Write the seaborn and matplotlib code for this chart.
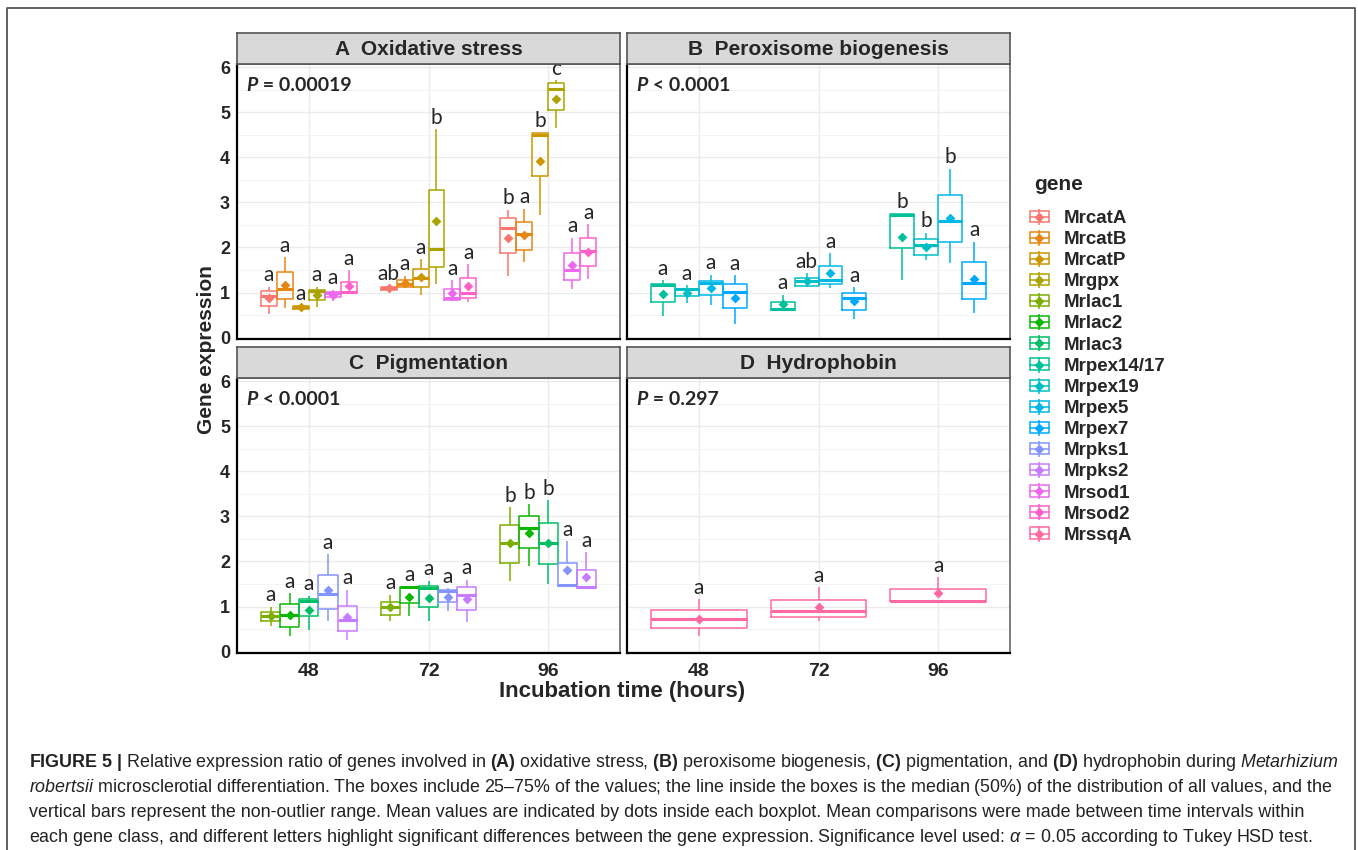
import pandas as pd
import matplotlib.pyplot as plt
import seaborn as sns
from matplotlib.patches import Patch
from matplotlib.lines import Line2D
from matplotlib.legend_handler import HandlerTuple

# Datos
times = ["48", "72", "96"]

gene_names = ["MrcatA", "MrcatB", "MrcatP", "Mrgpx", "Mrlac1", "Mrlac2", "Mrlac3",
              "Mrpex14/17", "Mrpex19", "Mrpex5", "Mrpex7", "Mrpks1", "Mrpks2",
              "Mrsod1", "Mrsod2", "MrssqA"]
gene_colors = ["#F8766D", "#E68613", "#CD9600", "#ABA300", "#7CAE00", "#0CB702",
               "#00BE67", "#00C19A", "#00BFC4", "#00B8E7", "#00A9FF", "#8494FF",
               "#C77CFF", "#ED68ED", "#FF61CC", "#FF68A1"]

# cada caja: [bigote inferior, Q1, mediana, Q3, bigote superior] para 48, 72, 96 h
ox_genes = ["MrcatA", "MrcatB", "MrcatP", "Mrgpx", "Mrsod1", "Mrsod2"]
ox_stats = [
    [[0.53, 0.71, 0.93, 1.04, 1.13], [1.04, 1.06, 1.10, 1.13, 1.15], [1.37, 1.88, 2.43, 2.65, 2.84]],
    [[0.65, 0.85, 1.07, 1.45, 1.79], [1.10, 1.13, 1.19, 1.27, 1.37], [1.67, 1.94, 2.29, 2.56, 2.86]],
    [[0.62, 0.64, 0.67, 0.70, 0.72], [0.95, 1.12, 1.32, 1.52, 1.74], [2.71, 3.58, 4.50, 4.53, 4.55]],
    [[0.69, 0.84, 1.04, 1.06, 1.13], [1.19, 1.56, 1.96, 3.28, 4.63], [4.65, 5.06, 5.52, 5.64, 5.71]],
    [[0.82, 0.90, 0.99, 1.01, 1.06], [0.82, 0.84, 0.87, 1.07, 1.28], [1.07, 1.28, 1.49, 1.87, 2.22]],
    [[0.99, 1.00, 1.01, 1.24, 1.49], [0.80, 0.88, 1.00, 1.32, 1.63], [1.29, 1.60, 1.92, 2.21, 2.52]],
]
ox_means = [[0.87, 1.10, 2.22], [1.17, 1.22, 2.27], [0.67, 1.34, 3.92],
            [0.95, 2.59, 5.30], [0.95, 1.00, 1.61], [1.15, 1.15, 1.91]]
ox_letters = [["a", "ab", "b"], ["a", "a", "a"], ["a", "a", "b"],
              ["a", "b", "c"], ["a", "a", "a"], ["a", "a", "a"]]

pex_genes = ["Mrpex14/17", "Mrpex19", "Mrpex5", "Mrpex7"]
pex_stats = [
    [[0.47, 0.79, 1.16, 1.19, 1.28], [0.61, 0.62, 0.63, 0.78, 0.95], [1.28, 1.99, 2.72, 2.74, 2.75]],
    [[0.77, 0.93, 1.07, 1.09, 1.16], [1.13, 1.15, 1.26, 1.32, 1.43], [1.72, 1.84, 2.05, 2.18, 2.33]],
    [[0.73, 0.95, 1.22, 1.26, 1.40], [1.10, 1.19, 1.28, 1.59, 1.87], [1.65, 2.12, 2.59, 3.16, 3.75]],
    [[0.31, 0.65, 1.01, 1.19, 1.39], [0.41, 0.62, 0.88, 0.99, 1.12], [0.54, 0.86, 1.21, 1.67, 2.13]],
]
pex_means = [[0.96, 0.74, 2.24], [1.00, 1.26, 2.02], [1.10, 1.43, 2.66], [0.88, 0.81, 1.30]]
pex_letters = [["a", "a", "b"], ["a", "ab", "b"], ["a", "a", "b"], ["a", "a", "a"]]

pig_genes = ["Mrlac1", "Mrlac2", "Mrlac3", "Mrpks1", "Mrpks2"]
pig_stats = [
    [[0.57, 0.67, 0.79, 0.87, 1.00], [0.69, 0.82, 0.98, 1.11, 1.26], [1.57, 1.96, 2.40, 2.80, 3.21]],
    [[0.34, 0.54, 0.82, 1.05, 1.30], [0.78, 1.09, 1.43, 1.44, 1.45], [1.91, 2.30, 2.74, 3.00, 3.27]],
    [[0.47, 0.78, 1.13, 1.16, 1.24], [0.67, 1.00, 1.41, 1.46, 1.57], [1.49, 1.94, 2.40, 2.86, 3.36]],
    [[0.69, 0.94, 1.28, 1.71, 2.16], [0.91, 1.11, 1.35, 1.37, 1.41], [1.45, 1.46, 1.47, 1.96, 2.45]],
    [[0.25, 0.45, 0.71, 1.02, 1.37], [0.65, 0.93, 1.26, 1.43, 1.60], [1.40, 1.41, 1.43, 1.80, 2.21]],
]
pig_means = [[0.78, 0.98, 2.40], [0.82, 1.22, 2.63], [0.93, 1.20, 2.41],
             [1.37, 1.22, 1.80], [0.77, 1.16, 1.66]]
pig_letters = [["a", "a", "b"], ["a", "a", "b"], ["a", "a", "b"], ["a", "a", "a"], ["a", "a", "a"]]

hyd_genes = ["MrssqA"]
hyd_stats = [
    [[0.35, 0.52, 0.72, 0.93, 1.16], [0.67, 0.77, 0.91, 1.15, 1.43], [1.12, 1.13, 1.13, 1.38, 1.65]],
]
hyd_means = [[0.72, 1.00, 1.30]]
hyd_letters = [["a", "a", "a"]]

panel_titles = ["A  Oxidative stress", "B  Peroxisome biogenesis", "C  Pigmentation", "D  Hydrophobin"]
panel_pvalues = ["= 0.00019", "< 0.0001", "< 0.0001", "= 0.297"]


def long_table(genes, stats):
    rows = []
    for g, per_time in zip(genes, stats):
        for t, five in zip(times, per_time):
            for v in five:
                rows.append((g, t, v))
    return pd.DataFrame(rows, columns=["gene", "time", "expr"])


def mean_table(genes, means):
    rows = [(g, t, m) for g, ms in zip(genes, means) for t, m in zip(times, ms)]
    return pd.DataFrame(rows, columns=["gene", "time", "expr"])


sns.set_style("white")
plt.rcParams["font.family"] = ["Liberation Sans", "DejaVu Sans"]
plt.rcParams["mathtext.fontset"] = "custom"
plt.rcParams["mathtext.rm"] = "Liberation Sans"
plt.rcParams["mathtext.bf"] = "Liberation Sans:bold"
plt.rcParams["mathtext.it"] = "Liberation Sans:italic"
palette = dict(zip(gene_names, gene_colors))

W, H = 1358, 850
fig = plt.figure(figsize=(13.58, 8.5), dpi=100)

# fondo en píxeles para marco, etiquetas y pie de figura
bg = fig.add_axes([0, 0, 1, 1], zorder=-1)
bg.set_xlim(0, W)
bg.set_ylim(H, 0)
bg.axis("off")
bg.plot([7, 7, 1355, 1355], [870, 8, 8, 870], color="#555555", lw=1.3, clip_on=False)

lefts = [237, 627]
tops = [64, 378]
pw, ph = 383, 275
axes = []
for r in range(2):
    for c in range(2):
        axes.append(fig.add_axes([lefts[c] / W, 1 - (tops[r] + ph) / H, pw / W, ph / H]))

panels = [
    (ox_genes, ox_stats, ox_means, ox_letters),
    (pex_genes, pex_stats, pex_means, pex_letters),
    (pig_genes, pig_stats, pig_means, pig_letters),
    (hyd_genes, hyd_stats, hyd_means, hyd_letters),
]

for i, (ax, (genes, stats, means, letters)) in enumerate(zip(axes, panels)):
    sns.boxplot(data=long_table(genes, stats), x="time", y="expr", hue="gene",
                order=times, hue_order=genes, palette=palette, fill=False,
                whis=(0, 100), width=0.8, linewidth=1.1, showcaps=False,
                medianprops={"linewidth": 2.2}, legend=False, ax=ax)
    sns.stripplot(data=mean_table(genes, means), x="time", y="expr", hue="gene",
                  order=times, hue_order=genes, palette=palette, dodge=True,
                  jitter=False, marker="D", size=5, legend=False, ax=ax, zorder=4)

    # letras de Tukey sobre cada caja
    each = 0.8 / len(genes)
    for gi in range(len(genes)):
        for ti in range(len(times)):
            ax.text(ti - 0.4 + each * (gi + 0.5), stats[gi][ti][4] + 0.12, letters[gi][ti],
                    ha="center", va="baseline", fontsize=15, family="Lato")

    ax.set_xlim(-0.6, 2.6)
    ax.set_ylim(-0.03, 6.07)
    ax.set_yticks(range(7))
    ax.set_yticks([k + 0.5 for k in range(6)], minor=True)
    ax.grid(which="major", color="#EBEBEB", lw=1.0)
    ax.grid(which="minor", axis="y", color="#F3F3F3", lw=0.7)
    ax.set_axisbelow(True)
    ax.set_xlabel("")
    ax.set_ylabel("")
    for sp in ax.spines.values():
        sp.set_color("#666666")
        sp.set_linewidth(1.2)
    ax.spines["left"].set_color("black")
    ax.spines["bottom"].set_color("black")
    ax.spines["left"].set_linewidth(1.6)
    ax.spines["bottom"].set_linewidth(1.6)

    ax.tick_params(axis="y", which="minor", left=False)
    if i % 2 == 0:
        ax.tick_params(axis="y", length=3, color="#333333", labelsize=13, pad=2)
        for lbl in ax.get_yticklabels():
            lbl.set_fontweight("bold")
    else:
        ax.tick_params(axis="y", left=False, labelleft=False)
    if i >= 2:
        ax.tick_params(axis="x", length=3, color="#333333", labelsize=14, pad=4)
        for lbl in ax.get_xticklabels():
            lbl.set_fontweight("bold")
    else:
        ax.tick_params(axis="x", bottom=False, labelbottom=False)

    # tira del facet
    strip = ax.inset_axes([0, 1, 1, 31 / ph])
    strip.set_facecolor("#D9D9D9")
    strip.set_xticks([])
    strip.set_yticks([])
    for sp in strip.spines.values():
        sp.set_color("#555555")
        sp.set_linewidth(1.2)
    strip.text(0.5, 0.48, panel_titles[i], ha="center", va="center",
               fontsize=15, fontweight="bold")

    # valor P
    tp = ax.text(0.025, 0.9, "P", transform=ax.transAxes, fontsize=14,
                 fontweight="bold", style="italic", family="Lato", va="baseline")
    ax.annotate(" " + panel_pvalues[i], xy=(1, 0), xycoords=tp, va="bottom",
                fontsize=14, fontweight="bold", family="Lato")

bg.text(622, 692, "Incubation time (hours)", ha="center", va="center",
        fontsize=16, fontweight="bold")
bg.text(207, 350, "Gene expression", ha="center", va="center", rotation=90,
        fontsize=15, fontweight="bold")

# leyenda
bg.text(1034, 184, "gene", ha="left", va="center", fontsize=15, fontweight="bold")
handles = [(Patch(facecolor="white", edgecolor=c, linewidth=1.1),
            Line2D([], [], color=c, lw=1.1, marker="|", markersize=11, markeredgewidth=1.1),
            Line2D([], [], color=c, marker="D", markersize=4, linestyle="none"))
           for c in gene_colors]
fig.legend(handles, gene_names, handler_map={tuple: HandlerTuple(ndivide=1)},
           loc="upper left", bbox_to_anchor=(1013 / W, 1 - 193 / H),
           frameon=False, prop={"weight": "bold", "size": 13.5},
           handlelength=1.0, handleheight=0.55, labelspacing=0.22,
           handletextpad=0.8)

# pie de figura
caption = [
    r"$\mathbf{FIGURE\ 5\ |}$ Relative expression ratio of genes involved in $\mathbf{(A)}$ oxidative stress, "
    r"$\mathbf{(B)}$ peroxisome biogenesis, $\mathbf{(C)}$ pigmentation, and $\mathbf{(D)}$ hydrophobin "
    r"during $\mathit{Metarhizium}$",
    r"$\mathit{robertsii}$ microsclerotial differentiation. The boxes include 25" + "\u2013" + "75% of the "
    "values; the line inside the boxes is the median (50%) of the distribution of all values, and the",
    "vertical bars represent the non-outlier range. Mean values are indicated by dots inside each "
    "boxplot. Mean comparisons were made between time intervals within",
    "each gene class, and different letters highlight significant differences between the gene "
    r"expression. Significance level used: $\alpha$ = 0.05 according to Tukey HSD test.",
]
for k, line in enumerate(caption):
    bg.text(29, 767 + 25 * k, line, va="baseline", ha="left", fontsize=12.9, color="#222222")

fig.savefig("out.png", dpi=100)
